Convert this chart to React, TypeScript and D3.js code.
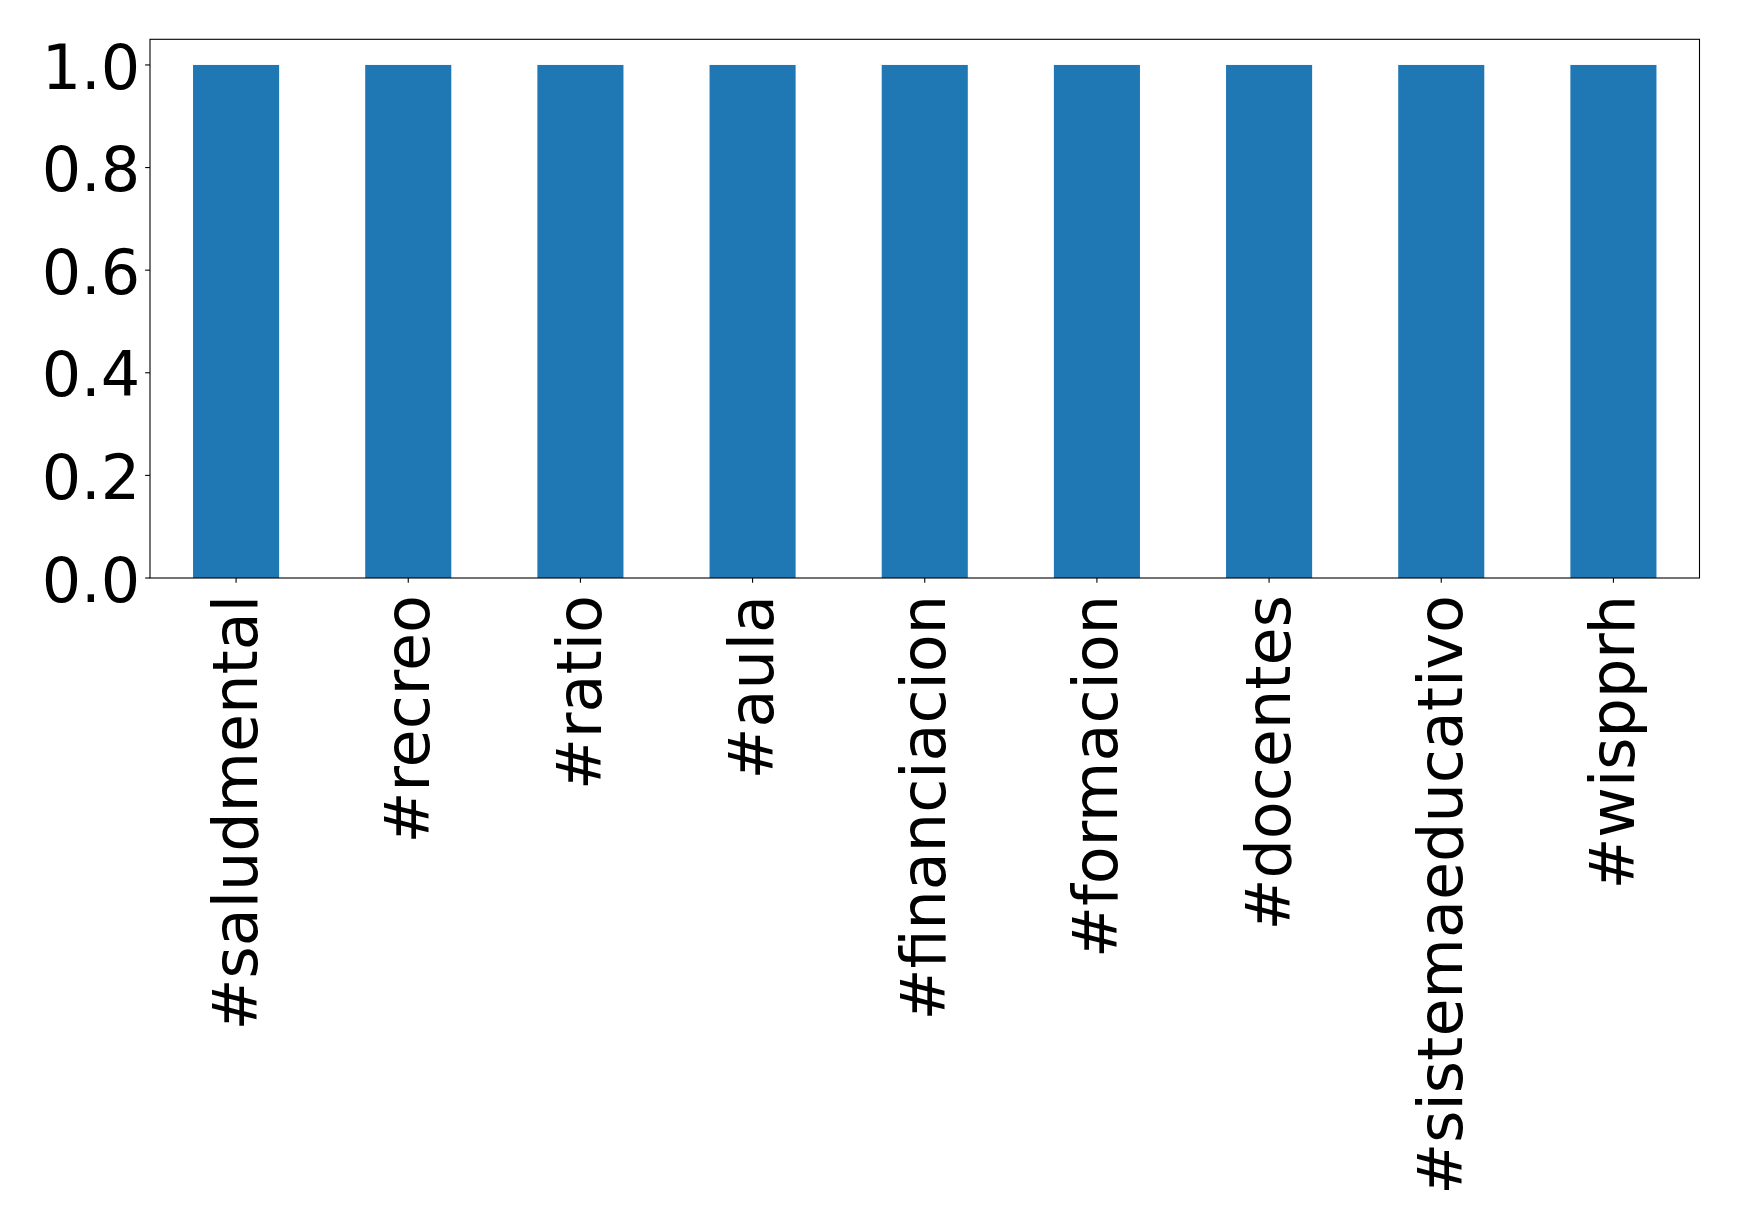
import React, { useEffect } from "react";
import * as d3 from "d3";

const categories = [
  "#saludmental",
  "#recreo",
  "#ratio",
  "#aula",
  "#financiacion",
  "#formacion",
  "#docentes",
  "#sistemaeducativo",
  "#wispprh",
];
const values = [1, 1, 1, 1, 1, 1, 1, 1, 1];
const yTicks = [0, 0.2, 0.4, 0.6, 0.8, 1.0];

const W = 1739;
const H = 1232;
const left = 150;
const right = 1699.5;
const top = 39.3;
const bottom = 578;
const FONT = "DejaVu Sans, sans-serif";
const FS = 62;
const TICK = 4.86;
const PAD = 4.86;

export default function App() {
  useEffect(() => {
    document.body.style.margin = "0";
  }, []);

  const x = d3.scaleLinear().domain([-0.5, categories.length - 0.5]).range([left, right]);
  const y = d3.scaleLinear().domain([0, 1.05]).range([bottom, top]);
  const barW = 0.5;

  return (
    <svg width={W} height={H} style={{ display: "block", background: "#fff" }}>
      {values.map((v, i) => (
        <rect
          key={i}
          x={x(i - barW / 2)}
          y={y(v)}
          width={x(i + barW / 2) - x(i - barW / 2)}
          height={y(0) - y(v)}
          fill="#1f77b4"
        />
      ))}
      <rect
        x={left}
        y={top}
        width={right - left}
        height={bottom - top}
        fill="none"
        stroke="#000"
        strokeWidth={1.1}
      />
      {yTicks.map((t) => (
        <g key={t}>
          <line x1={left - TICK} x2={left} y1={y(t)} y2={y(t)} stroke="#000" strokeWidth={1.1} />
          <text
            x={left - TICK - PAD}
            y={y(t)}
            dy="0.38em"
            textAnchor="end"
            fontFamily={FONT}
            fontSize={FS}
            fill="#000"
          >
            {t.toFixed(1)}
          </text>
        </g>
      ))}
      {categories.map((c, i) => (
        <g key={c}>
          <line x1={x(i)} x2={x(i)} y1={bottom} y2={bottom + TICK} stroke="#000" strokeWidth={1.1} />
          <text
            transform={`translate(${x(i)},${bottom + 17}) rotate(-90)`}
            dy="0.33em"
            textAnchor="end"
            fontFamily={FONT}
            fontSize={FS}
            fill="#000"
          >
            {c}
          </text>
        </g>
      ))}
    </svg>
  );
}
